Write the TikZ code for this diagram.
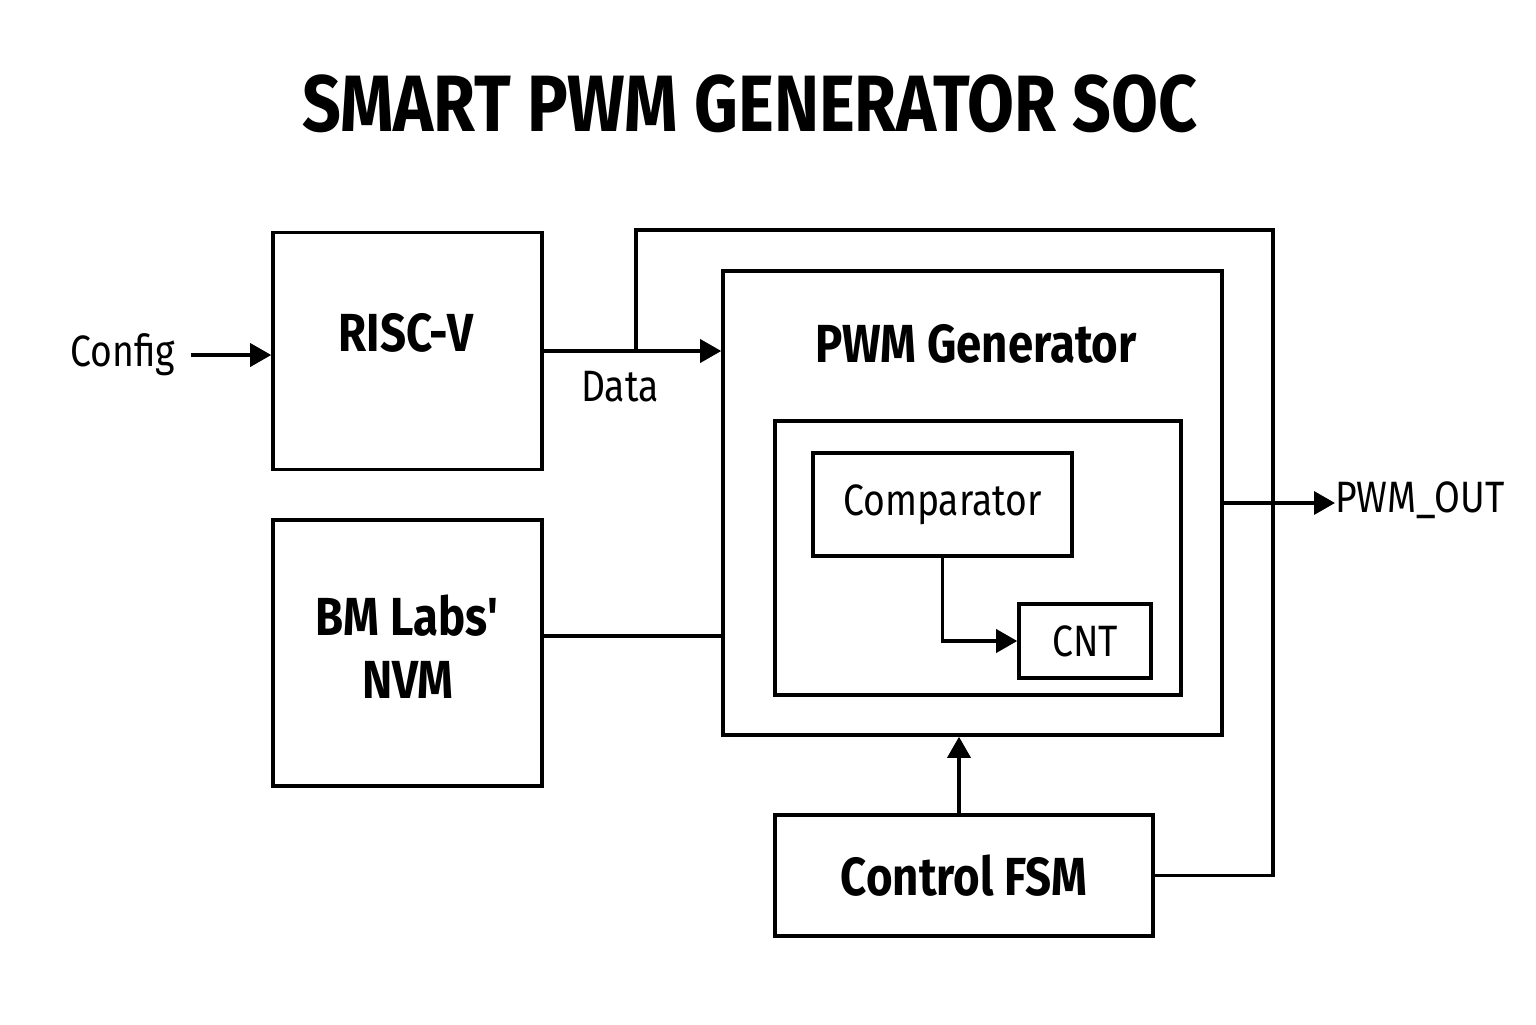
\documentclass[tikz,border=0pt]{standalone}
\usepackage[svgnames]{xcolor}
\usepackage{fontspec}
\setmainfont{Fira Sans}[FakeStretch=0.85]
\usetikzlibrary{arrows.meta}
\tikzstyle{none}=[inner sep=0pt]
\tikzstyle{simple}=[-,draw=Black,line width=2pt]
\tikzstyle{flow}=[-{Triangle[length=0.42cm,width=0.46cm]},draw=Black,line width=2pt]
\tikzstyle{block}=[draw=Black,line width=2pt,inner sep=0pt]
\tikzstyle{heading}=[inner sep=0pt,font=\bfseries\fontsize{45.5}{52}\selectfont]
\tikzstyle{blockname}=[inner sep=0pt,font=\bfseries\fontsize{30.5}{36}\selectfont]
\tikzstyle{tag}=[inner sep=0pt,font=\fontsize{25}{30}\selectfont]

\begin{document}
\begin{tikzpicture}
  \useasboundingbox (-15.36, -10.24) rectangle (15.36, 10.24);
  \node [style=block, minimum width=5.38cm, minimum height=4.74cm] (0) at (-7.21, 3.22) {};
  \node [style=block, minimum width=5.38cm, minimum height=5.32cm] (1) at (-7.21, -2.82) {};
  \node [style=block, minimum width=9.98cm, minimum height=9.28cm] (2) at (4.09, 0.18) {};
  \node [style=block, minimum width=8.12cm, minimum height=5.48cm] (3) at (4.2, -0.92) {};
  \node [style=block, style=tag, minimum width=7.56cm, minimum height=2.42cm, font=\bfseries\fontsize{30.5}{36}\selectfont] (4) at (3.92, -7.27) {Control FSM};
  \node [style=block, style=tag, minimum width=5.18cm, minimum height=2.06cm] (5) at (3.49, 0.15) {Comparator};
  \node [style=block, style=tag, minimum width=2.64cm, minimum height=1.48cm] (6) at (6.34, -2.58) {CNT};
  \node [style=heading] (7) at (-0.36, 8.16) {SMART PWM GENERATOR SOC};
  \node [style=blockname] (8) at (-7.24, 3.58) {RISC-V};
  \node [style=blockname, align=center] (9) at (-7.2, -2.7) {BM Labs\textquotesingle\\NVM};
  \node [style=blockname] (10) at (4.16, 3.36) {PWM Generator};
  \node [style=tag] (11) at (-12.9, 3.14) {Config};
  \node [style=tag] (12) at (-2.96, 2.5) {Data};
  \node [style=tag, anchor=west] (13) at (11.34, 0.24) {PWM\_OUT};
  \coordinate (14) at (-2.64, 3.22);
  \coordinate (15) at (10.1, 5.64);
  \coordinate (16) at ([yshift=0.34cm]1.east);
  \draw [style=flow] ([xshift=0.3cm]11.east) to (11.east -| 0.west);
  \draw [style=flow] (0.east) to (0.east -| 2.west);
  \draw [style=simple] (4.east) -| (15) -| (14);
  \draw [style=simple] (16) to (16 -| 2.west);
  \draw [style=flow] (5.south) |- (6.west);
  \draw [style=flow] ([xshift=-0.1cm]4.north) to ([xshift=-0.1cm]4.north |- 2.south);
  \draw [style=flow] (2.east) to (2.east -| 13.west);
\end{tikzpicture}
\end{document}
